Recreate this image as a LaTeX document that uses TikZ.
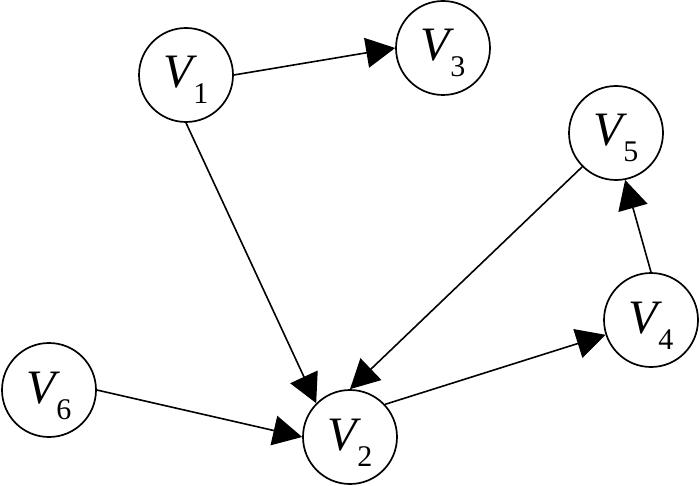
\documentclass[tikz,border=0pt]{standalone}
\usepackage{fontspec}
\setmainfont{Liberation Serif}
\usetikzlibrary{arrows.meta}
\newcommand{\vlab}[1]{\fontsize{48}{48}\selectfont\textit{V}\kern-4pt\raisebox{-16pt}{\fontsize{30}{30}\selectfont #1}}
\tikzset{
  vert/.style={circle, draw=black, line width=1.7pt, minimum size=94pt, inner sep=0pt,
    text height=42pt, text depth=16pt, fill=white},
  edge/.style={line width=1.6pt, -{Triangle[length=29pt, width=30pt]}}
}
\begin{document}
\begin{tikzpicture}[x=1pt, y=-1pt]
\useasboundingbox (0,0) rectangle (700,486);
\node[vert] (v1) at (186,75) {\vlab{1}};
\node[vert] (v3) at (443,48) {\vlab{3}};
\node[vert] (v5) at (616,133) {\vlab{5}};
\node[vert] (v4) at (651,320) {\vlab{4}};
\node[vert] (v6) at (49,390) {\vlab{6}};
\node[vert] (v2) at (350,437) {\vlab{2}};
\draw[edge] (v1.east) -- (v3.west);
\draw[edge] (v1.south) -- (v2.135);
\draw[edge] (v6.east) -- (v2.west);
\draw[edge] (v5.225) -- (v2.north);
\draw[edge] (v2.43) -- (v4.198);
\draw[edge] (v4.north) -- (v5.281);
\end{tikzpicture}
\end{document}
